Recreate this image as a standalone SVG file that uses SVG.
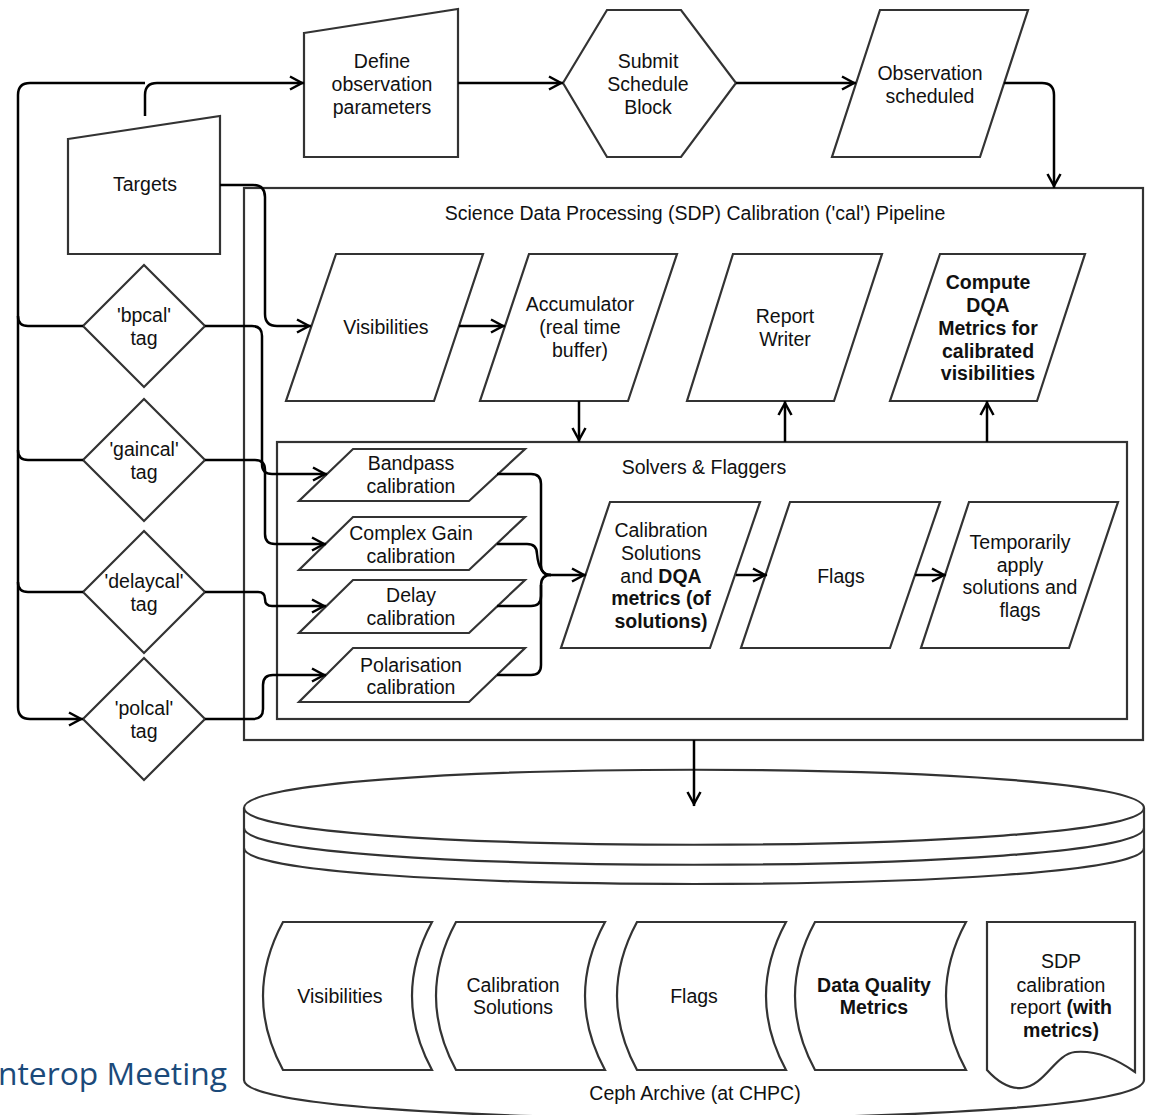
<svg xmlns="http://www.w3.org/2000/svg" width="1149" height="1115" viewBox="0 0 1149 1115">
  <style>
    .shape { fill: #fff; stroke: #333; stroke-width: 2.2; stroke-linejoin: miter; }
    .frame { fill: none; stroke: #333; stroke-width: 2.2; }
    .conn { fill: none; stroke: #000; stroke-width: 2.5; }
    text { font-family: "Liberation Sans", Arial, sans-serif; font-size: 19.5px; fill: #111; text-anchor: middle; }
    .b { font-weight: bold; }
    .footer { font-family: "Open Sans", "Liberation Sans", sans-serif; font-size: 31px; fill: #1b4a7a; text-anchor: start; }
  </style>
  <defs>
    <marker id="arr" viewBox="0 0 20 20" refX="17" refY="10" markerWidth="20" markerHeight="20" orient="auto" markerUnits="userSpaceOnUse">
      <path d="M3,3.5 L15,10 L3,16.5" fill="none" stroke="#000" stroke-width="2.5"/>
    </marker>
  </defs>

  <rect width="1149" height="1115" fill="#fff"/>

  <!-- Pipeline containers -->
  <g id="pipeline">
    <rect class="shape" x="244" y="188" width="899" height="552"/>
    <text x="695" y="220">Science Data Processing (SDP) Calibration ('cal') Pipeline</text>
  </g>
  <g id="solvers">
    <rect class="shape" x="277" y="442" width="850" height="277"/>
    <text x="704" y="474">Solvers &amp; Flaggers</text>
  </g>

  <!-- Planning nodes -->
  <g id="define">
    <polygon class="shape" points="304,33 458,9 458,157 304,157"/>
    <text x="382" y="68">Define</text>
    <text x="382" y="91">observation</text>
    <text x="382" y="114">parameters</text>
  </g>
  <g id="submit">
    <polygon class="shape" points="563,83 607,10 681,10 736,83 681,157 607,157"/>
    <text x="648" y="68">Submit</text>
    <text x="648" y="91">Schedule</text>
    <text x="648" y="114">Block</text>
  </g>
  <g id="scheduled">
    <polygon class="shape" points="880,10 1028,10 980,157 832,157"/>
    <text x="930" y="80">Observation</text>
    <text x="930" y="103">scheduled</text>
  </g>
  <g id="targets">
    <polygon class="shape" points="68,139 220,116 220,254 68,254"/>
    <text x="145" y="191">Targets</text>
  </g>

  <!-- Calibrator tags -->
  <g id="tag-bpcal">
    <polygon class="shape" points="144,265 205,326 144,387 83,326"/>
    <text x="144" y="322">'bpcal'</text>
    <text x="144" y="345">tag</text>
  </g>
  <g id="tag-gaincal">
    <polygon class="shape" points="144,399 205,460 144,521 83,460"/>
    <text x="144" y="456">'gaincal'</text>
    <text x="144" y="479">tag</text>
  </g>
  <g id="tag-delaycal">
    <polygon class="shape" points="144,531 205,592 144,653 83,592"/>
    <text x="144" y="588">'delaycal'</text>
    <text x="144" y="611">tag</text>
  </g>
  <g id="tag-polcal">
    <polygon class="shape" points="144,658 205,719 144,780 83,719"/>
    <text x="144" y="715">'polcal'</text>
    <text x="144" y="738">tag</text>
  </g>

  <!-- Pipeline stages -->
  <g id="visibilities">
    <polygon class="shape" points="336,254 483,254 434,401 286,401"/>
    <text x="386" y="334">Visibilities</text>
  </g>
  <g id="accumulator">
    <polygon class="shape" points="529,254 677,254 628,401 480,401"/>
    <text x="580" y="311">Accumulator</text>
    <text x="580" y="334">(real time</text>
    <text x="580" y="357">buffer)</text>
  </g>
  <g id="report-writer">
    <polygon class="shape" points="733,254 882,254 834,401 687,401"/>
    <text x="785" y="323">Report</text>
    <text x="785" y="346">Writer</text>
  </g>
  <g id="compute-dqa">
    <polygon class="shape" points="940,254 1085,254 1037,401 890,401"/>
    <text class="b" x="988" y="289">Compute</text>
    <text class="b" x="988" y="312">DQA</text>
    <text class="b" x="988" y="335">Metrics for</text>
    <text class="b" x="988" y="358">calibrated</text>
    <text class="b" x="988" y="380">visibilities</text>
  </g>

  <!-- Solvers -->
  <g id="bandpass">
    <polygon class="shape" points="353,449 525,449 469,501 299,501"/>
    <text x="411" y="470">Bandpass</text>
    <text x="411" y="493">calibration</text>
  </g>
  <g id="complex-gain">
    <polygon class="shape" points="353,517 525,517 469,570 299,570"/>
    <text x="411" y="540">Complex Gain</text>
    <text x="411" y="563">calibration</text>
  </g>
  <g id="delay">
    <polygon class="shape" points="353,580 525,580 469,633 299,633"/>
    <text x="411" y="602">Delay</text>
    <text x="411" y="625">calibration</text>
  </g>
  <g id="polarisation">
    <polygon class="shape" points="353,648 525,648 469,702 299,702"/>
    <text x="411" y="672">Polarisation</text>
    <text x="411" y="694">calibration</text>
  </g>
  <g id="cal-solutions">
    <polygon class="shape" points="610,502 760,502 710,648 561,648"/>
    <text x="661" y="537">Calibration</text>
    <text x="661" y="560">Solutions</text>
    <text x="661" y="583">and <tspan class="b">DQA</tspan></text>
    <text class="b" x="661" y="605">metrics (of</text>
    <text class="b" x="661" y="628">solutions)</text>
  </g>
  <g id="flags">
    <polygon class="shape" points="790,502 940,502 890,648 741,648"/>
    <text x="841" y="583">Flags</text>
  </g>
  <g id="apply">
    <polygon class="shape" points="969,502 1118,502 1069,648 921,648"/>
    <text x="1020" y="549">Temporarily</text>
    <text x="1020" y="572">apply</text>
    <text x="1020" y="594">solutions and</text>
    <text x="1020" y="617">flags</text>
  </g>

  <!-- Archive -->
  <g id="archive">
    <path class="shape" d="M244,808 C244,757 1144,757 1144,808 V1080 C1144,1131 244,1131 244,1080 Z"/>
    <path class="frame" d="M244,808 C244,857 1144,857 1144,808 M244,828 C244,877 1144,877 1144,828 M244,848 C244,896 1144,896 1144,848"/>
    <text x="695" y="1100">Ceph Archive (at CHPC)</text>
  </g>
  <g id="arch-visibilities">
    <path class="shape" d="M283,922 H432 Q392,996 432,1070 H283 Q243,996 283,922 Z"/>
    <text x="340" y="1003">Visibilities</text>
  </g>
  <g id="arch-solutions">
    <path class="shape" d="M456,922 H605 Q565,996 605,1070 H456 Q416,996 456,922 Z"/>
    <text x="513" y="992">Calibration</text>
    <text x="513" y="1014">Solutions</text>
  </g>
  <g id="arch-flags">
    <path class="shape" d="M637,922 H786 Q746,996 786,1070 H637 Q597,996 637,922 Z"/>
    <text x="694" y="1003">Flags</text>
  </g>
  <g id="arch-dqm">
    <path class="shape" d="M815,922 H966 Q926,996 966,1070 H815 Q775,996 815,922 Z"/>
    <text class="b" x="874" y="992">Data Quality</text>
    <text class="b" x="874" y="1014">Metrics</text>
  </g>
  <g id="arch-report">
    <path class="shape" d="M987,922 H1135 V1072 C1118,1060 1098,1050 1075,1052 C1055,1054 1045,1086 1022,1088 C1008,1089 996,1080 987,1070 Z"/>
    <text x="1061" y="968">SDP</text>
    <text x="1061" y="992">calibration</text>
    <text x="1061" y="1014">report <tspan class="b">(with</tspan></text>
    <text class="b" x="1061" y="1037">metrics)</text>
  </g>

  <!-- Connectors -->
  <g id="connectors">
    <path class="conn" d="M145,116 V95 Q145,83 157,83 H304" marker-end="url(#arr)"/>
    <path class="conn" d="M145,83 H30 Q18,83 18,95 V707 Q18,719 30,719 H83" marker-end="url(#arr)"/>
    <path class="conn" d="M18,316 Q18,326 28,326 H83"/>
    <path class="conn" d="M18,450 Q18,460 28,460 H83"/>
    <path class="conn" d="M18,582 Q18,592 28,592 H83"/>
    <path class="conn" d="M458,83 H563" marker-end="url(#arr)"/>
    <path class="conn" d="M736,83 H856" marker-end="url(#arr)"/>
    <path class="conn" d="M1004,83 H1042 Q1054,83 1054,95 V188" marker-end="url(#arr)"/>
    <path class="conn" d="M220,185 H253 Q265,185 265,197 V314 Q265,326 277,326 H311" marker-end="url(#arr)"/>
    <path class="conn" d="M459,326 H505" marker-end="url(#arr)"/>
    <path class="conn" d="M579,401 V442" marker-end="url(#arr)"/>
    <path class="conn" d="M785,442 V401" marker-end="url(#arr)"/>
    <path class="conn" d="M987,442 V401" marker-end="url(#arr)"/>
    <path class="conn" d="M205,326 H252 Q262,326 262,336 V464 Q262,474 272,474 H327" marker-end="url(#arr)"/>
    <path class="conn" d="M205,460 H255 Q265,460 265,470 V534 Q265,544 275,544 H326" marker-end="url(#arr)"/>
    <path class="conn" d="M205,592 H258 Q265,592 265,599 Q265,606 272,606 H326" marker-end="url(#arr)"/>
    <path class="conn" d="M205,719 H253 Q263,719 263,709 V685 Q263,675 273,675 H326" marker-end="url(#arr)"/>
    <path class="conn" d="M497,474 H531 Q541,474 541,484 V565 Q541,575 551,575 H586" marker-end="url(#arr)"/>
    <path class="conn" d="M497,544 H527 Q537,544 537,554 Q539,575 551,575"/>
    <path class="conn" d="M497,606 H531 Q541,606 541,596 V585 Q541,575 551,575"/>
    <path class="conn" d="M497,675 H531 Q541,675 541,665 V585"/>
    <path class="conn" d="M736,575 H767" marker-end="url(#arr)"/>
    <path class="conn" d="M915,575 H946" marker-end="url(#arr)"/>
    <path class="conn" d="M694,740 V806" marker-end="url(#arr)"/>
  </g>

  <text class="footer" x="-2" y="1085" textLength="229" lengthAdjust="spacingAndGlyphs">nterop Meeting</text>
</svg>
